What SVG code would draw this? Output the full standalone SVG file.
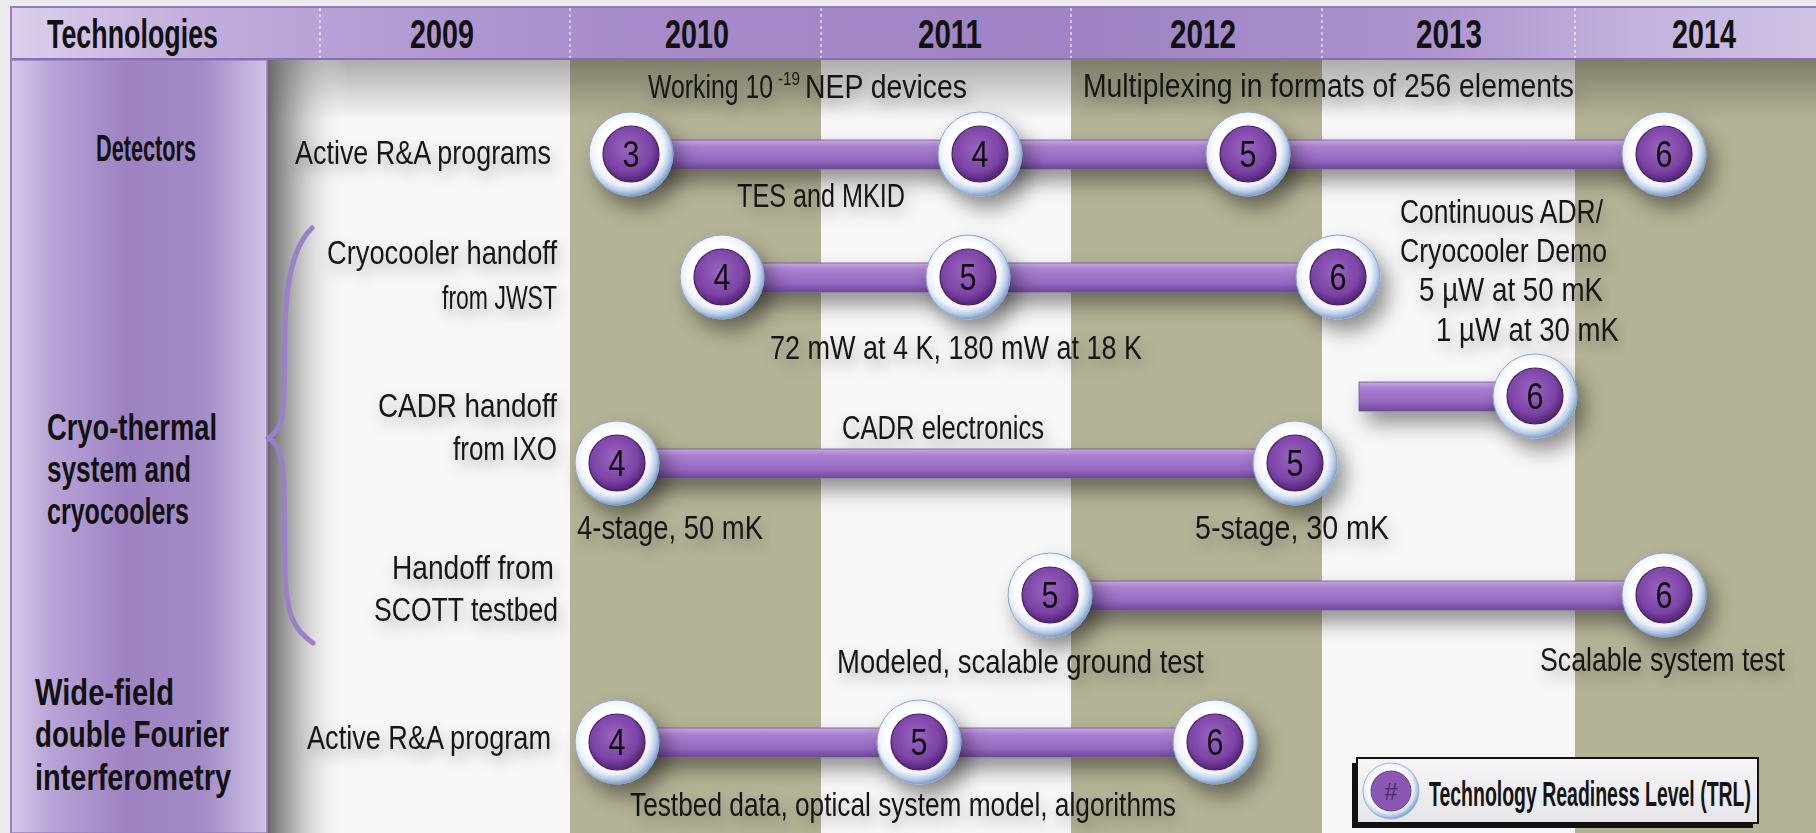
<svg xmlns="http://www.w3.org/2000/svg" xmlns:xlink="http://www.w3.org/1999/xlink" width="1816" height="833" viewBox="0 0 1816 833">
  <style>
    .t { font-family: "Liberation Sans Narrow", "Liberation Sans", Arial, sans-serif; font-size: 34px; fill: #141414; }
    .sup { font-family: "Liberation Sans Narrow", "Liberation Sans", Arial, sans-serif; font-size: 18px; fill: #141414; }
    .h { font-family: "Liberation Sans Narrow", "Liberation Sans", Arial, sans-serif; font-size: 41px; font-weight: bold; fill: #111; }
    .lbl { font-family: "Liberation Sans Narrow", "Liberation Sans", Arial, sans-serif; font-size: 36px; font-weight: bold; fill: #111; }
    .num { font-family: "Liberation Sans Narrow", "Liberation Sans", Arial, sans-serif; font-size: 37px; fill: #111; text-anchor: middle; }
    .bar { fill: url(#barFill); stroke: #6f5296; stroke-width: 0.8; }
    .divider { stroke: #ffffff; stroke-opacity: 0.7; stroke-width: 1.5; stroke-dasharray: 3 3; }
    .olive { fill: #b5b396; }
  </style>
  <defs>
    <linearGradient id="headFill" x1="0" y1="0" x2="1" y2="0">
      <stop offset="0" stop-color="#dcd0ec"/>
      <stop offset="0.1" stop-color="#c2aedc"/>
      <stop offset="0.2" stop-color="#b49dd4"/>
      <stop offset="0.35" stop-color="#a68ac9"/>
      <stop offset="0.6" stop-color="#9f83c4"/>
      <stop offset="0.78" stop-color="#ab93cd"/>
      <stop offset="0.9" stop-color="#c3b2dd"/>
      <stop offset="1" stop-color="#cfc2e4"/>
    </linearGradient>
    <linearGradient id="sideFill" x1="0" y1="0" x2="1" y2="0">
      <stop offset="0" stop-color="#d5cae7"/>
      <stop offset="0.15" stop-color="#b9a5d8"/>
      <stop offset="0.45" stop-color="#9e82c3"/>
      <stop offset="0.75" stop-color="#a38bc7"/>
      <stop offset="0.92" stop-color="#c2b2dc"/>
      <stop offset="1" stop-color="#d0c3e4"/>
    </linearGradient>
    <linearGradient id="leftShade" x1="0" y1="0" x2="1" y2="0">
      <stop offset="0" stop-color="#666" stop-opacity="1"/>
      <stop offset="0.35" stop-color="#888" stop-opacity="0.6"/>
      <stop offset="1" stop-color="#fff" stop-opacity="0"/>
    </linearGradient>
    <linearGradient id="topShade" x1="0" y1="0" x2="0" y2="1">
      <stop offset="0" stop-color="#000" stop-opacity="0.3"/>
      <stop offset="1" stop-color="#000" stop-opacity="0"/>
    </linearGradient>
    <linearGradient id="barFill" x1="0" y1="0" x2="0" y2="1">
      <stop offset="0" stop-color="#c7a9e2"/>
      <stop offset="0.22" stop-color="#a981d1"/>
      <stop offset="0.7" stop-color="#9568c0"/>
      <stop offset="1" stop-color="#6e4997"/>
    </linearGradient>
    <radialGradient id="ringFill" cx="0.46" cy="0.44" r="0.56">
      <stop offset="0" stop-color="#ffffff"/>
      <stop offset="0.6" stop-color="#ffffff"/>
      <stop offset="0.78" stop-color="#eef2fa"/>
      <stop offset="0.9" stop-color="#b9cee8"/>
      <stop offset="1" stop-color="#7f9fca"/>
    </radialGradient>
    <radialGradient id="discFill" cx="0.45" cy="0.4" r="0.6">
      <stop offset="0" stop-color="#9c64c2"/>
      <stop offset="0.7" stop-color="#7b43a5"/>
      <stop offset="1" stop-color="#522374"/>
    </radialGradient>
    <linearGradient id="legendFill" x1="0" y1="0" x2="0" y2="1">
      <stop offset="0" stop-color="#f6f6f8"/>
      <stop offset="1" stop-color="#e6e6ea"/>
    </linearGradient>
    <filter id="drop" x="-10%" y="-80%" width="130%" height="300%">
      <feDropShadow dx="8" dy="12" stdDeviation="10" flood-color="#000" flood-opacity="0.42"/>
    </filter>
    <filter id="haze" x="-20%" y="-60%" width="140%" height="260%">
      <feDropShadow dx="3" dy="7" stdDeviation="7" flood-color="#000" flood-opacity="0.3"/>
    </filter>
    <!-- TRL badge: pale ring with a purple disc -->
    <g id="badge">
      <circle r="42" fill="url(#ringFill)" stroke="#8aa6cf" stroke-width="1"/>
      <circle r="28" fill="url(#discFill)" stroke="#4a1f6b" stroke-width="1.2"/>
    </g>
  </defs>

  <!-- page -->
  <rect x="0" y="0" width="1816" height="833" fill="#ececec"/>

  <!-- body: year columns -->
  <g id="body">
    <rect x="267" y="60" width="1549" height="773" fill="#f7f7f7"/>
    <rect class="olive" x="570" y="60" width="251" height="773"/>
    <rect class="olive" x="1071" y="60" width="251" height="773"/>
    <rect class="olive" x="1575" y="60" width="241" height="773"/>
    <rect x="267" y="60" width="1549" height="60" fill="url(#topShade)"/>
    <rect x="267" y="60" width="80" height="773" fill="url(#leftShade)"/>
  </g>

  <!-- side column with technology names -->
  <g id="side">
    <rect x="11" y="60" width="256" height="773" fill="url(#sideFill)" stroke="#9a80c2" stroke-width="1.5"/>
  </g>

  <!-- header row -->
  <g id="header">
    <rect x="11" y="6" width="1805" height="54" fill="url(#headFill)"/>
    <line x1="11" y1="7" x2="1816" y2="7" stroke="#9679c0" stroke-width="2"/>
    <line x1="11" y1="59" x2="1816" y2="59" stroke="#8a6cb6" stroke-width="2"/>
    <line x1="11" y1="6" x2="11" y2="833" stroke="#9a80c2" stroke-width="2"/>
    <line class="divider" x1="320" y1="8" x2="320" y2="58"/>
    <line class="divider" x1="570" y1="8" x2="570" y2="58"/>
    <line class="divider" x1="821" y1="8" x2="821" y2="58"/>
    <line class="divider" x1="1071" y1="8" x2="1071" y2="58"/>
    <line class="divider" x1="1322" y1="8" x2="1322" y2="58"/>
    <line class="divider" x1="1575" y1="8" x2="1575" y2="58"/>
    <text class="h" x="47" y="48" textLength="171" lengthAdjust="spacingAndGlyphs">Technologies</text>
    <text class="h" x="410" y="48" textLength="64" lengthAdjust="spacingAndGlyphs">2009</text>
    <text class="h" x="665" y="48" textLength="64" lengthAdjust="spacingAndGlyphs">2010</text>
    <text class="h" x="918" y="48" textLength="64" lengthAdjust="spacingAndGlyphs">2011</text>
    <text class="h" x="1170" y="48" textLength="66" lengthAdjust="spacingAndGlyphs">2012</text>
    <text class="h" x="1416" y="48" textLength="66" lengthAdjust="spacingAndGlyphs">2013</text>
    <text class="h" x="1672" y="48" textLength="64" lengthAdjust="spacingAndGlyphs">2014</text>
  </g>

  <!-- technology names -->
  <g id="row-labels">
    <text class="lbl" x="96" y="161" textLength="100" lengthAdjust="spacingAndGlyphs">Detectors</text>
    <text class="lbl" x="47" y="440" textLength="170" lengthAdjust="spacingAndGlyphs">Cryo-thermal</text>
    <text class="lbl" x="47" y="482" textLength="144" lengthAdjust="spacingAndGlyphs">system and</text>
    <text class="lbl" x="47" y="524" textLength="142" lengthAdjust="spacingAndGlyphs">cryocoolers</text>
    <text class="lbl" x="35" y="705" textLength="139" lengthAdjust="spacingAndGlyphs">Wide-field</text>
    <text class="lbl" x="35" y="747" textLength="194" lengthAdjust="spacingAndGlyphs">double Fourier</text>
    <text class="lbl" x="35" y="790" textLength="196" lengthAdjust="spacingAndGlyphs">interferometry</text>
  </g>

  <!-- brace grouping the cryo-thermal rows -->
  <path id="brace" d="M 312 228 C 295 244 286 275 285 330 L 284 395 C 283 422 279 432 268 438 C 279 444 283 456 284 486 L 285 570 C 286 615 294 630 313 643" fill="none" stroke="#9a80c8" stroke-width="5" stroke-linecap="round" stroke-linejoin="round"/>

  <!-- row descriptions and milestone notes -->
  <g id="notes" filter="url(#haze)">
    <text class="t" x="648" y="98" textLength="125" lengthAdjust="spacingAndGlyphs">Working 10</text>
    <text class="sup" x="778" y="85" textLength="22" lengthAdjust="spacingAndGlyphs">-19</text>
    <text class="t" x="805" y="98" textLength="162" lengthAdjust="spacingAndGlyphs">NEP devices</text>
    <text class="t" x="1083" y="97" textLength="491" lengthAdjust="spacingAndGlyphs">Multiplexing in formats of 256 elements</text>
    <text class="t" x="295" y="164" textLength="256" lengthAdjust="spacingAndGlyphs">Active R&amp;A programs</text>
    <text class="t" x="737" y="207" textLength="168" lengthAdjust="spacingAndGlyphs">TES and MKID</text>

    <text class="t" x="327" y="264" textLength="230" lengthAdjust="spacingAndGlyphs">Cryocooler handoff</text>
    <text class="t" x="442" y="309" textLength="115" lengthAdjust="spacingAndGlyphs">from JWST</text>
    <text class="t" x="770" y="359" textLength="372" lengthAdjust="spacingAndGlyphs">72 mW at 4 K, 180 mW at 18 K</text>

    <text class="t" x="1400" y="223" textLength="203" lengthAdjust="spacingAndGlyphs">Continuous ADR/</text>
    <text class="t" x="1400" y="262" textLength="207" lengthAdjust="spacingAndGlyphs">Cryocooler Demo</text>
    <text class="t" x="1419" y="301" textLength="184" lengthAdjust="spacingAndGlyphs">5 µW at 50 mK</text>
    <text class="t" x="1436" y="341" textLength="183" lengthAdjust="spacingAndGlyphs">1 µW at 30 mK</text>

    <text class="t" x="378" y="417" textLength="179" lengthAdjust="spacingAndGlyphs">CADR handoff</text>
    <text class="t" x="453" y="460" textLength="104" lengthAdjust="spacingAndGlyphs">from IXO</text>
    <text class="t" x="842" y="439" textLength="202" lengthAdjust="spacingAndGlyphs">CADR electronics</text>
    <text class="t" x="577" y="539" textLength="186" lengthAdjust="spacingAndGlyphs">4-stage, 50 mK</text>
    <text class="t" x="1195" y="539" textLength="194" lengthAdjust="spacingAndGlyphs">5-stage, 30 mK</text>

    <text class="t" x="392" y="579" textLength="162" lengthAdjust="spacingAndGlyphs">Handoff from</text>
    <text class="t" x="374" y="621" textLength="184" lengthAdjust="spacingAndGlyphs">SCOTT testbed</text>
    <text class="t" x="837" y="673" textLength="367" lengthAdjust="spacingAndGlyphs">Modeled, scalable ground test</text>
    <text class="t" x="1540" y="671" textLength="245" lengthAdjust="spacingAndGlyphs">Scalable system test</text>

    <text class="t" x="307" y="749" textLength="244" lengthAdjust="spacingAndGlyphs">Active R&amp;A program</text>
    <text class="t" x="630" y="816" textLength="546" lengthAdjust="spacingAndGlyphs">Testbed data, optical system model, algorithms</text>
  </g>

  <!-- TRL progress bars (connectors) -->
  <g id="connectors" filter="url(#drop)">
    <rect class="bar" x="631" y="140" width="1033" height="29"/>
    <rect class="bar" x="721" y="263" width="622" height="29"/>
    <rect class="bar" x="1359" y="382" width="178" height="29" stroke-width="1.5"/>
    <rect class="bar" x="617" y="449" width="678" height="29"/>
    <rect class="bar" x="1050" y="581" width="614" height="29"/>
    <rect class="bar" x="618" y="728" width="597" height="29"/>
  </g>

  <!-- TRL milestones -->
  <g id="milestones" filter="url(#drop)">
    <g id="det-trl3" transform="translate(631,154)"><use xlink:href="#badge"/><text class="num" y="13" textLength="17" lengthAdjust="spacingAndGlyphs">3</text></g>
    <g id="det-trl4" transform="translate(980,154)"><use xlink:href="#badge"/><text class="num" y="13" textLength="17" lengthAdjust="spacingAndGlyphs">4</text></g>
    <g id="det-trl5" transform="translate(1248,154)"><use xlink:href="#badge"/><text class="num" y="13" textLength="17" lengthAdjust="spacingAndGlyphs">5</text></g>
    <g id="det-trl6" transform="translate(1664,154)"><use xlink:href="#badge"/><text class="num" y="13" textLength="17" lengthAdjust="spacingAndGlyphs">6</text></g>

    <g id="cryo-trl4" transform="translate(722,277)"><use xlink:href="#badge"/><text class="num" y="13" textLength="17" lengthAdjust="spacingAndGlyphs">4</text></g>
    <g id="cryo-trl5" transform="translate(968,277)"><use xlink:href="#badge"/><text class="num" y="13" textLength="17" lengthAdjust="spacingAndGlyphs">5</text></g>
    <g id="cryo-trl6" transform="translate(1338,277)"><use xlink:href="#badge"/><text class="num" y="13" textLength="17" lengthAdjust="spacingAndGlyphs">6</text></g>

    <g id="adr-trl6" transform="translate(1535,396)"><use xlink:href="#badge"/><text class="num" y="13" textLength="17" lengthAdjust="spacingAndGlyphs">6</text></g>

    <g id="cadr-trl4" transform="translate(617,463)"><use xlink:href="#badge"/><text class="num" y="13" textLength="17" lengthAdjust="spacingAndGlyphs">4</text></g>
    <g id="cadr-trl5" transform="translate(1295,463)"><use xlink:href="#badge"/><text class="num" y="13" textLength="17" lengthAdjust="spacingAndGlyphs">5</text></g>

    <g id="scott-trl5" transform="translate(1050,595)"><use xlink:href="#badge"/><text class="num" y="13" textLength="17" lengthAdjust="spacingAndGlyphs">5</text></g>
    <g id="scott-trl6" transform="translate(1664,595)"><use xlink:href="#badge"/><text class="num" y="13" textLength="17" lengthAdjust="spacingAndGlyphs">6</text></g>

    <g id="dfi-trl4" transform="translate(617,742)"><use xlink:href="#badge"/><text class="num" y="13" textLength="17" lengthAdjust="spacingAndGlyphs">4</text></g>
    <g id="dfi-trl5" transform="translate(919,742)"><use xlink:href="#badge"/><text class="num" y="13" textLength="17" lengthAdjust="spacingAndGlyphs">5</text></g>
    <g id="dfi-trl6" transform="translate(1215,742)"><use xlink:href="#badge"/><text class="num" y="13" textLength="17" lengthAdjust="spacingAndGlyphs">6</text></g>
  </g>

  <!-- legend -->
  <g id="legend">
    <rect x="1352" y="763" width="401" height="65" fill="#111"/>
    <rect x="1357" y="758" width="401" height="65" fill="url(#legendFill)" stroke="#111" stroke-width="2"/>
    <circle cx="1391" cy="791" r="28" fill="url(#ringFill)" stroke="#9ab3d6" stroke-width="1"/>
    <circle cx="1391" cy="791" r="20" fill="#8a57b4" stroke="#6b3d92" stroke-width="1"/>
    <text class="t" x="1391" y="800" text-anchor="middle" style="font-size:24px; fill:#4a3060">#</text>
    <text class="t" x="1429" y="806" textLength="322" lengthAdjust="spacingAndGlyphs" style="font-size:35px; font-weight:bold">Technology Readiness Level (TRL)</text>
  </g>
</svg>
